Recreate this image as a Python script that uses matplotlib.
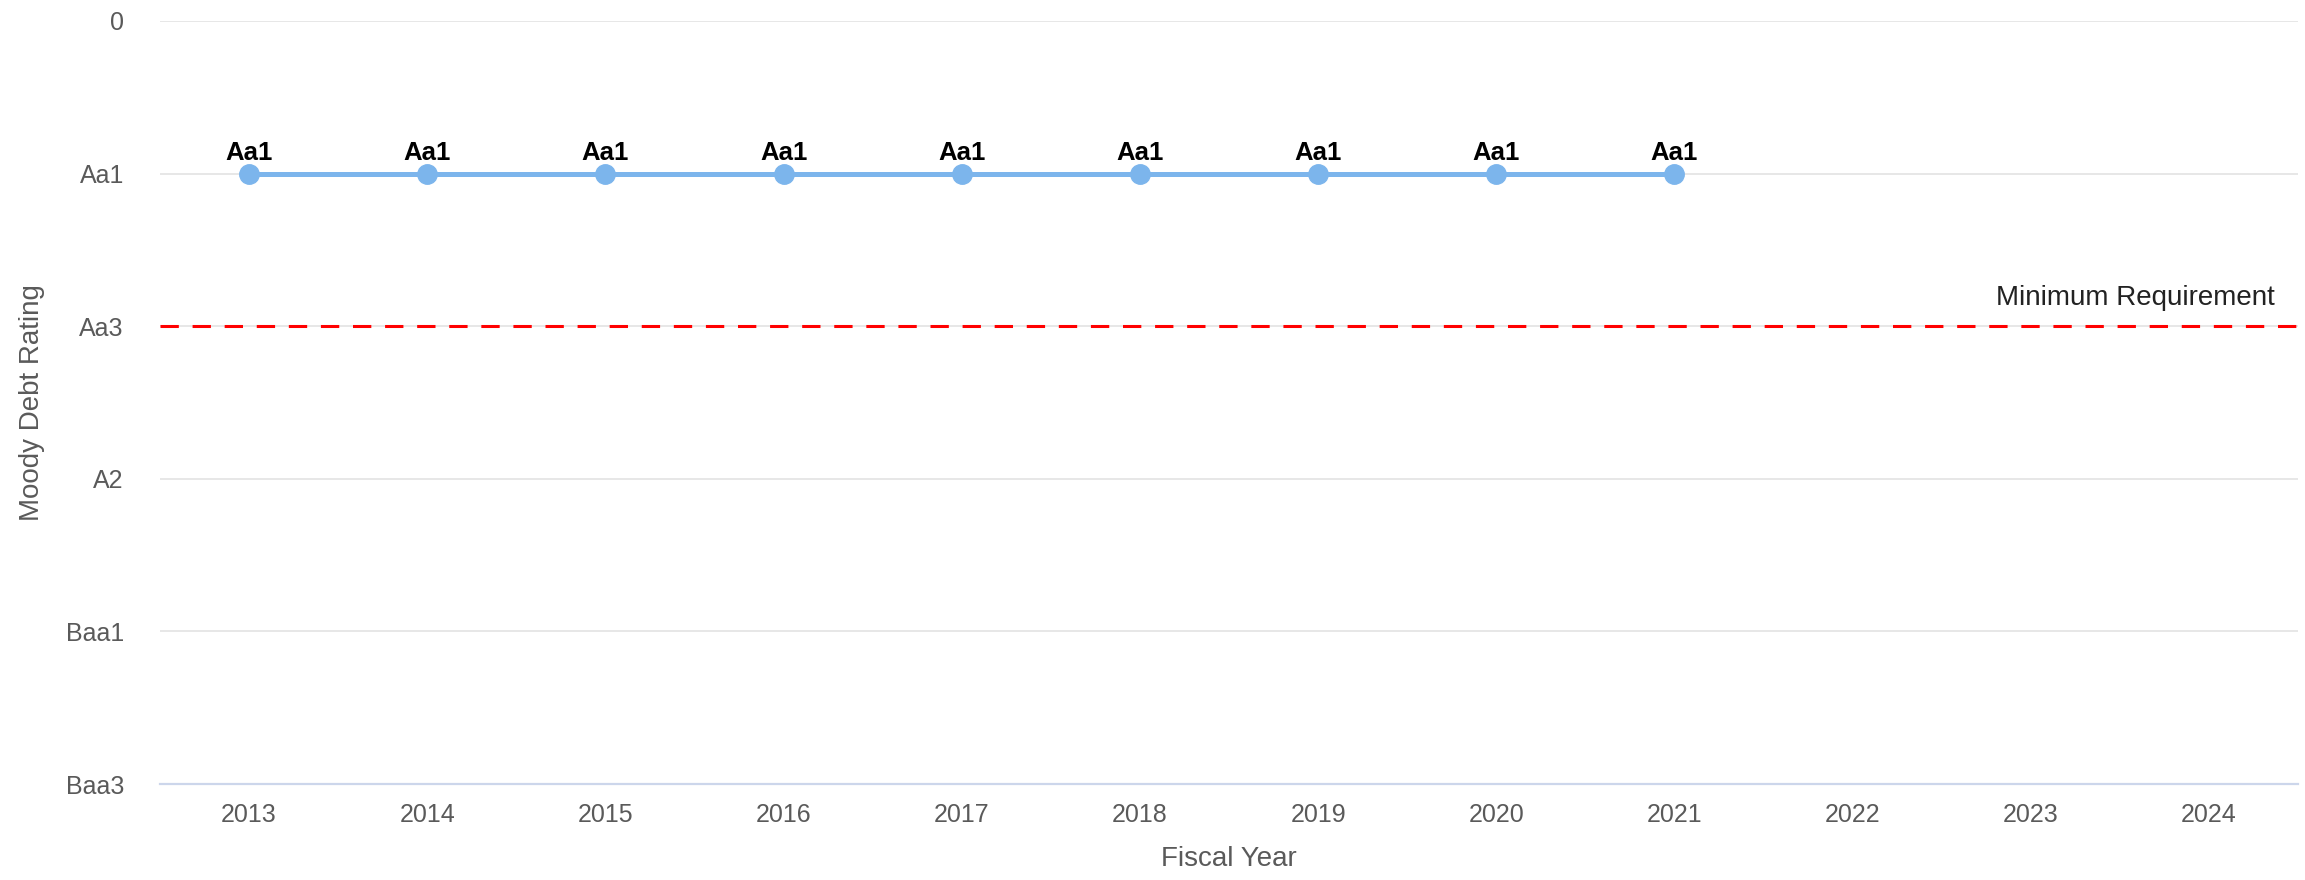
import matplotlib.pyplot as plt
from matplotlib.transforms import blended_transform_factory

plt.rcParams['font.family'] = ['Liberation Sans', 'DejaVu Sans']

# Moody's scale, numbered from 1 (Aaa) downwards
scale = ["Aaa", "Aa1", "Aa2", "Aa3", "A1", "A2", "A3", "Baa1", "Baa2", "Baa3"]
years = ["2013", "2014", "2015", "2016", "2017", "2018", "2019", "2020", "2021",
         "2022", "2023", "2024"]
ratings = ["Aa1", "Aa1", "Aa1", "Aa1", "Aa1", "Aa1", "Aa1", "Aa1", "Aa1"]
minimum = "Aa3"

ytick_vals = [0, 2, 4, 6, 8, 10]
ytick_labels = ["0", "Aa1", "Aa3", "A2", "Baa1", "Baa3"]

def rank(r):
    return scale.index(r) + 1

W, H = 2305, 880
fig = plt.figure(figsize=(W / 100, H / 100), dpi=100)
ax = fig.add_axes([160 / W, 1 - 784 / H, (2298 - 160) / W, (784 - 21) / H])

x = list(range(len(ratings)))
y = [rank(r) for r in ratings]
ax.plot(x, y, color="#7cb5ec", lw=3.6, marker="o", ms=14, zorder=3)
for xi, yi, r in zip(x, y, ratings):
    ax.annotate(r, (xi, yi), xytext=(0, 6), textcoords="offset points",
                ha="center", va="bottom", fontsize=18.5, fontweight="bold",
                color="#000000")

# minimum requirement line
ymin_req = rank(minimum)
ln = ax.axhline(ymin_req, color="#ff0000", lw=2.2, zorder=2)
ln.set_dashes((6, 4.5))
trans = blended_transform_factory(ax.transAxes, ax.transData)
ax.annotate("Minimum Requirement", (0.989, ymin_req), xycoords=trans,
            xytext=(0, 11), textcoords="offset points", ha="right", va="bottom",
            fontsize=20, color="#222222")

ax.set_xlim(-0.5, len(years) - 0.5)
ax.set_ylim(10, 0)
ax.set_xticks(range(len(years)))
ax.set_xticklabels(years)
ax.set_yticks(ytick_vals)
ax.set_yticklabels(ytick_labels)
ax.tick_params(axis="both", length=0, labelsize=18, colors="#5a5a5a")
ax.tick_params(axis="y", pad=26)
ax.tick_params(axis="x", pad=14)

ax.grid(axis="y", color="#e3e3e3", lw=1.2)
ax.set_axisbelow(True)
for s in ["top", "left", "right"]:
    ax.spines[s].set_visible(False)
ax.spines["bottom"].set_color("#ccd6eb")
ax.spines["bottom"].set_linewidth(1.6)

fig.text((160 + 2298) / 2 / W, 1 - 859 / H, "Fiscal Year", ha="center", va="center",
         fontsize=20, color="#5a5a5a")
fig.text(32 / W, 1 - 403 / H, "Moody Debt Rating", ha="center", va="center",
         rotation=90, fontsize=20, color="#5a5a5a")

fig.savefig("out.png", dpi=100, facecolor="white")
